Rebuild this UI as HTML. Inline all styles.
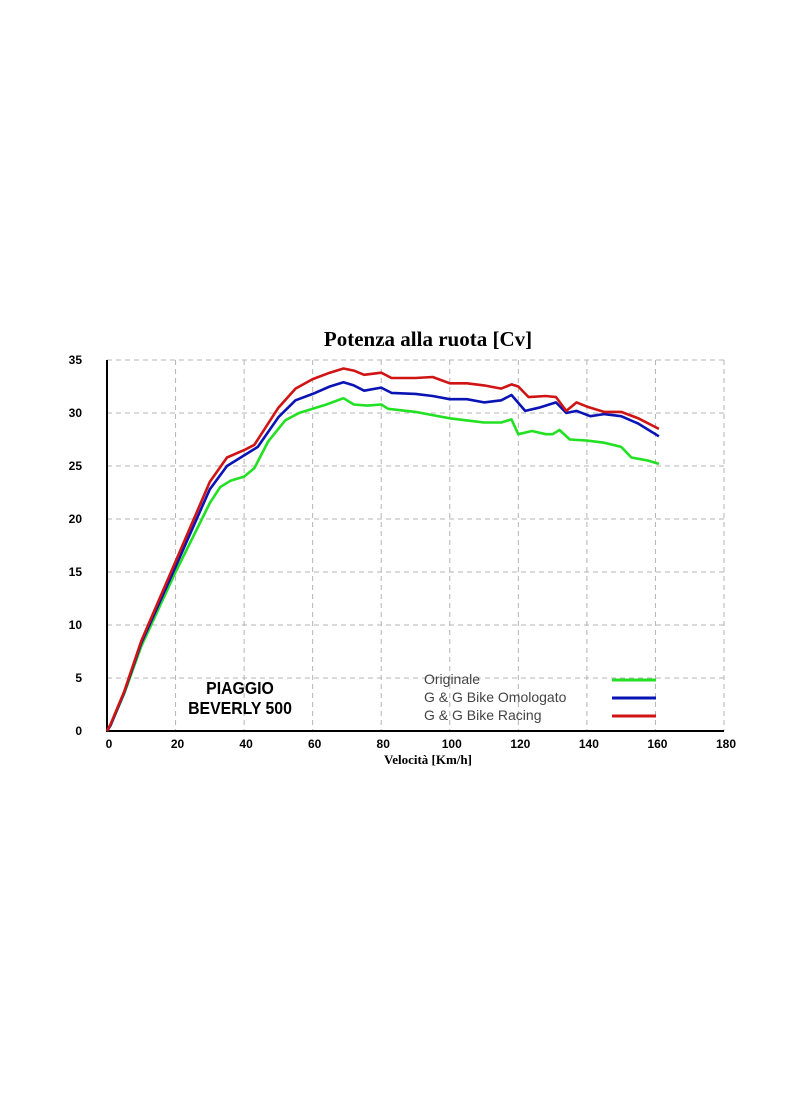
<!DOCTYPE html>
<html><head><meta charset="utf-8"><style>body{margin:0;background:#fff}svg{display:block}</style></head>
<body>
<svg id="chart" width="800" height="1096" xmlns="http://www.w3.org/2000/svg">
<rect width="800" height="1096" fill="#fff"/>
<text x="428" y="346" text-anchor="middle" font-family="Liberation Serif, serif" font-weight="bold" font-size="21">Potenza alla ruota  [Cv]</text>
<g id="grid"></g><g id="axes"></g><g id="series"></g>
<text x="428" y="764" text-anchor="middle" font-family="Liberation Serif, serif" font-weight="bold" font-size="13">Velocità [Km/h]</text>
<g transform="translate(240,0) scale(0.88,1)">
<text x="0" y="694" text-anchor="middle" font-family="Liberation Sans, sans-serif" font-weight="bold" font-size="18">PIAGGIO</text>
<text x="0" y="714" text-anchor="middle" font-family="Liberation Sans, sans-serif" font-weight="bold" font-size="18">BEVERLY 500</text>
</g>
<g id="legend"></g>
</svg>
<script>
const xTicks=[0,20,40,60,80,100,120,140,160,180];
const yTicks=[0,5,10,15,20,25,30,35];
const seriesNames=["Originale","G & G Bike Omologato","G & G Bike Racing"];
const seriesColors=["#22e022","#0a14b4","#d01414"];
const greenX=[0,1,5,10,20,30,33,36,40,43,47,52,56,60,64,69,72,76,80,82,90,95,100,105,110,115,118,120,124,128,130,132,135,140,145,150,153,158,161];
const greenY=[0,0.5,3.5,8,15,21.5,23,23.6,24,24.8,27.3,29.3,30,30.4,30.8,31.4,30.8,30.7,30.8,30.4,30.1,29.8,29.5,29.3,29.1,29.1,29.4,28,28.3,28,28,28.4,27.5,27.4,27.2,26.8,25.8,25.5,25.2];
const blueX=[0,1,5,10,20,30,35,40,44,50,55,60,65,69,72,75,80,83,90,95,100,105,110,115,118,122,126,131,134,137,141,145,150,155,161];
const blueY=[0,0.5,3.6,8.3,15.5,22.8,25,26,26.8,29.6,31.2,31.8,32.5,32.9,32.6,32.1,32.4,31.9,31.8,31.6,31.3,31.3,31,31.2,31.7,30.2,30.5,31,30,30.2,29.7,29.9,29.7,29,27.8];
const redX=[0,1,5,10,20,30,35,40,43,47,50,55,60,65,69,72,75,80,83,90,95,100,105,110,115,118,120,123,128,131,134,137,140,145,150,155,161];
const redY=[0,0.6,3.7,8.5,16,23.5,25.8,26.5,27,29,30.5,32.3,33.2,33.8,34.2,34,33.6,33.8,33.3,33.3,33.4,32.8,32.8,32.6,32.3,32.7,32.5,31.5,31.6,31.5,30.2,31,30.6,30.1,30.1,29.5,28.5];
const X0=107,X1=724,Y0=731,Y1=360;
const sx=v=>X0+(v-0)/180*(X1-X0), sy=v=>Y0-v/35*(Y0-Y1);
const NS="http://www.w3.org/2000/svg";
function mk(t,a,p){const e=document.createElementNS(NS,t);for(const k in a)e.setAttribute(k,a[k]);p.appendChild(e);return e;}
const grid=document.getElementById('grid'),axes=document.getElementById('axes'),ser=document.getElementById('series'),leg=document.getElementById('legend');
xTicks.forEach(v=>{if(v>0){const l=mk('line',{x1:sx(v),x2:sx(v),y1:Y1,y2:Y0,stroke:'#b4b4b4','stroke-dasharray':'5,4'},grid);

}
const t=mk('text',{x:sx(v)+2,y:748,'text-anchor':'middle','font-family':'Liberation Sans, sans-serif','font-weight':'bold','font-size':'12'},axes);t.textContent=v;

});
yTicks.forEach(v=>{if(v>0){const l=mk('line',{x1:X0,x2:X1,y1:sy(v),y2:sy(v),stroke:'#b4b4b4','stroke-dasharray':'5,4'},grid);

}
const t=mk('text',{x:82,y:sy(v)+4,'text-anchor':'end','font-family':'Liberation Sans, sans-serif','font-weight':'bold','font-size':'12'},axes);t.textContent=v;

});
const ya=mk('line',{x1:X0,x2:X0,y1:Y1,y2:Y0+1,stroke:'#000','stroke-width':2},axes);


const xa=mk('line',{x1:X0-1,x2:X1,y1:Y0,y2:Y0,stroke:'#000','stroke-width':2},axes);


[[greenX,greenY],[blueX,blueY],[redX,redY]].forEach((s,i)=>{
const d=s[0].map((x,j)=>(j?'L':'M')+sx(x).toFixed(1)+','+sy(s[1][j]).toFixed(1)).join('');
const p=mk('path',{d:d,fill:'none',stroke:seriesColors[i],'stroke-width':2.6,'stroke-linejoin':'round'},ser);


const ly=680+i*18;
const t=mk('text',{x:424,y:ly+4,'font-family':'Liberation Sans, sans-serif','font-size':'14',fill:'#444'},leg);t.textContent=seriesNames[i];


const l=mk('line',{x1:612,x2:656,y1:ly,y2:ly,stroke:seriesColors[i],'stroke-width':3},leg);


});
</script>
</body></html>
